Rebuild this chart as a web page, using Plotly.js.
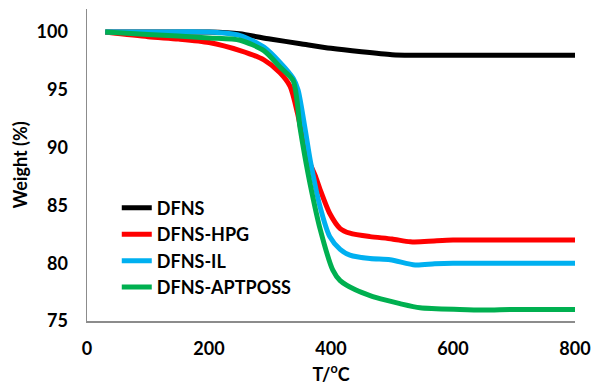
<!DOCTYPE html>
<html>
<head>
<meta charset="utf-8">
<script src="https://cdn.plot.ly/plotly-3.0.1.min.js"></script>
<style>html,body{margin:0;padding:0;background:#fff;}#chart{width:593px;height:391px;}</style>
</head>
<body>
<div id="chart"></div>
<script>
// DFNS
const tDFNS = [30, 100, 200, 250, 300, 350, 400, 450, 500, 530, 600, 700, 800];
const wDFNS = [100, 100, 100, 99.85, 99.4, 99.0, 98.6, 98.3, 98.05, 98.0, 98.0, 98.0, 98.0];
// DFNS-HPG
const tHPG = [30, 100, 150, 200, 251, 290, 316, 333, 345, 355, 365, 374, 382, 398, 415, 431, 464, 500, 530, 560, 600, 700, 800];
const wHPG = [100, 99.6, 99.4, 99.1, 98.4, 97.6, 96.5, 95.3, 93.0, 90.5, 88.7, 87.6, 86.4, 84.3, 83.0, 82.6, 82.3, 82.1, 81.85, 81.9, 82.0, 82.0, 82.0];
// DFNS-IL
const tIL = [30, 100, 200, 251, 290, 316, 338, 346, 357, 366, 382, 398, 415, 431, 464, 497, 538, 570, 600, 700, 800];
const wIL = [100, 100, 100, 99.7, 98.7, 97.4, 96.0, 95.0, 91.8, 88.9, 84.9, 82.3, 81.2, 80.7, 80.4, 80.3, 79.85, 79.95, 80.0, 80.0, 80.0];
// DFNS-APTPOSS
const tAPT = [30, 100, 200, 251, 290, 316, 338, 349, 357, 366, 382, 403, 415, 440, 464, 490, 513, 546, 611, 650, 700, 800];
const wAPT = [100, 99.8, 99.5, 99.3, 98.4, 97.0, 95.8, 91.8, 89.3, 86.8, 83.0, 79.4, 78.5, 77.7, 77.2, 76.8, 76.5, 76.15, 76.0, 75.95, 76.0, 76.0];

const names = ['DFNS', 'DFNS-HPG', 'DFNS-IL', 'DFNS-APTPOSS'];
const colors = ['#000000', '#ff0000', '#00b0f0', '#00b050'];
const xs = [tDFNS, tHPG, tIL, tAPT];
const ys = [wDFNS, wHPG, wIL, wAPT];

const font = 'Lato, "Open Sans", sans-serif';
const traces = names.map((n, i) => ({
  x: xs[i], y: ys[i], name: n, type: 'scatter', mode: 'lines',
  line: {color: colors[i], width: 5, shape: 'spline', smoothing: 0.7}
}));

const layout = {
  width: 593, height: 391,
  margin: {l: 87, r: 18, t: 9, b: 70},
  paper_bgcolor: '#fff', plot_bgcolor: '#fff',
  font: {family: font, size: 18, color: '#000', weight: 'bold'},
  showlegend: true,
  legend: {x: 0.061, y: 0.421, xanchor: 'left', yanchor: 'top', bgcolor: 'rgba(0,0,0,0)',
    font: {family: font, size: 18, color: '#000', weight: 'bold'}, tracegroupgap: 0, itemwidth: 30},
  xaxis: {range: [0, 800], tickvals: [0, 200, 400, 600, 800], showgrid: false, zeroline: false,
    showline: true, linecolor: '#8c8c8c', linewidth: 1.5, ticks: '', ticklabelstandoff: 11,
    tickfont: {family: font, size: 18, weight: 'bold'},
    title: {text: 'T/<sup>o</sup>C', font: {family: font, size: 18, weight: 'bold'}, standoff: 10}},
  yaxis: {range: [75, 102], tickvals: [75, 80, 85, 90, 95, 100], showgrid: false, zeroline: false,
    showline: true, linecolor: '#8c8c8c', linewidth: 1.5, ticks: '', ticklabelstandoff: 14,
    tickfont: {family: font, size: 18, weight: 'bold'},
    title: {text: 'Weight (%)', font: {family: font, size: 18, weight: 'bold'}, standoff: 4}}
};
Plotly.newPlot('chart', traces, layout, {displayModeBar: false, staticPlot: true});
</script>
</body>
</html>
